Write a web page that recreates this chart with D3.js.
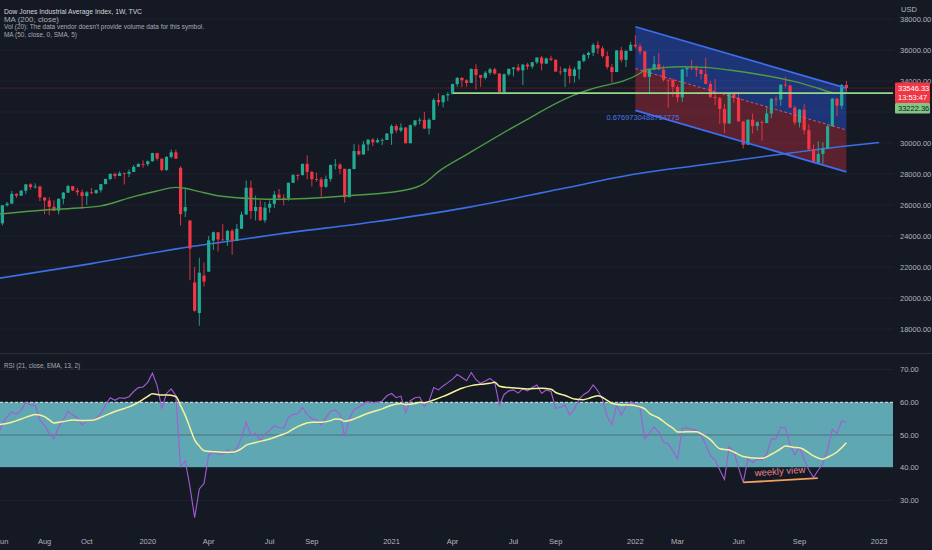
<!DOCTYPE html>
<html><head><meta charset="utf-8">
<script src="https://cdn.jsdelivr.net/npm/d3@7/dist/d3.min.js"></script>
<style>
html,body{margin:0;padding:0;background:#151924;}
svg{display:block;font-family:"Liberation Sans",Arial,sans-serif;}
</style></head><body>
<svg id="c" width="932" height="550"></svg>
<script>
// ---- DATA (weekly bars, index 0 = week of 2019-05-27) ----
const opens = [25585,24815,25984,26090,26719,26600,26922,27332,27154,27192,26485,26287,25886,25629,26403,26797,27220,26935,26820,26573,26817,26770,26958,27347,27681,28005,27876,28051,28015,28135,28455,28645,28634,28823,29348,28989,28256,29102,29398,28400,25590,25000,21000,19030,21450,21700,23700,24242,23775,23724,24331,23685,24465,25383,27111,25606,25871,25016,25827,26075,26672,26470,26428,27433,27931,27930,28654,28133,27666,27657,27174,27683,28587,28606,28336,26502,28323,29480,29263,29910,30218,30046,30179,30200,30606,31098,30814,30997,29983,31148,31458,31494,30932,31496,32779,32628,33072,33153,33801,34200,34043,33875,34778,34382,34208,34529,34756,34480,33290,34433,34786,34870,34687,35061,34935,35209,35515,35120,35455,35369,34608,34584,34798,34326,34746,35295,35677,35820,36328,36100,35602,34899,34580,35971,35365,35951,36338,36231,35912,34265,34725,35089,34738,34079,34059,33615,32944,34755,34861,34818,34721,34451,33811,32977,32899,32197,31262,33213,32900,31393,29888,31501,31097,31338,31288,31899,32845,32803,33761,33707,32283,31318,32151,30822,29590,28726,29297,29635,31083,32862,32403,33748];
const highs = [25600,26000,26200,26910,26750,26970,27350,27400,27400,27250,26500,26500,26300,26420,26840,27300,27220,27100,27000,26900,27100,27000,27350,27700,28040,28090,28175,28100,28290,28580,28700,28870,28870,29370,29370,28989,29150,29570,29570,28500,27100,25000,22000,22600,22300,24000,24280,24250,24760,24400,24450,24770,25580,27580,27580,26610,26300,26200,26300,26900,27030,26700,27440,28000,28000,28670,29200,28200,28100,27800,27900,28600,28960,28700,28340,28350,29930,29900,30120,30230,30320,30310,30300,30640,31200,31200,31270,31030,31200,31470,31640,32010,31600,32900,33230,33100,33280,33830,34260,34260,34120,34810,35090,34400,34640,34850,34850,34500,34480,34800,34900,35090,35080,35170,35230,35520,35630,35520,35630,35400,34930,34800,35000,34900,35310,35770,35900,36440,36570,36250,35900,35100,36000,36200,35960,36530,36950,36400,35950,34700,35600,35820,34990,34100,34170,33750,34800,34860,35370,35000,34800,35500,34000,34120,32970,32520,33220,33300,33280,31400,31520,31900,31400,31450,32300,32900,33000,33800,34280,33760,32400,32200,32500,31200,29900,30100,30050,31150,32900,32900,33800,34000];
const lows = [24800,24680,25900,26060,26450,26600,26720,27000,27050,26250,25400,25340,25600,25400,26050,26780,26900,26600,25750,26000,26700,26700,26800,27340,27600,27700,27870,27320,27800,28130,28450,28400,28500,28800,28860,28170,28200,29000,28980,24680,25220,21150,19120,18213,20740,21690,23100,23000,23700,23360,22790,23680,24460,25380,25100,25000,24960,24850,25500,25800,26300,25990,26280,27430,27600,27900,27660,27200,27500,26540,27100,27500,28300,28000,26140,26500,28300,29200,29260,29500,29800,29990,29860,30200,29880,30650,30700,29980,29980,31050,31200,30900,30550,31480,32400,32300,32700,33150,33640,33600,33640,33870,33460,33630,34100,34400,34400,33270,33150,34330,34300,34600,33740,34730,34800,35100,34690,35120,35280,34600,34400,33610,33850,33900,34100,35200,35450,35600,35750,35500,34760,33900,34580,35200,34900,35950,36100,35700,34200,33150,34700,34700,33970,32270,32980,32630,32650,34280,34700,34270,34100,33800,32900,32440,31230,30640,31250,32600,31390,29650,29880,30600,30800,30140,31280,31600,32400,32400,33600,32270,31160,31000,30550,29570,28720,28700,28660,29630,31080,31730,32200,33300];
const closes = [24815,25984,26090,26719,26600,26922,27332,27154,27192,26485,26287,25886,25629,26403,26797,27220,26935,26820,26573,26817,26770,26958,27347,27681,28005,27876,28051,28015,28135,28455,28645,28634,28823,29348,28989,28256,29102,29398,28992,25409,25865,23186,19174,21637,21053,23719,24242,23775,23724,24331,23685,24465,25383,27111,25606,25871,25016,25827,26075,26672,26470,26428,27433,27931,27930,28654,28133,27666,27657,27174,27683,28587,28606,28336,26502,28323,29480,29263,29910,30218,30046,30179,30200,30606,31098,30814,30997,29983,31148,31458,31494,30932,31496,32779,32628,33072,33153,33801,34200,34043,33875,34778,34382,34208,34529,34756,34480,33290,34433,34786,34870,34687,35061,34935,35209,35515,35120,35455,35369,34608,34584,34798,34326,34746,35295,35677,35820,36328,36100,35602,34899,34580,35971,35365,35951,36338,36231,35912,34265,34725,35089,34738,34079,34059,33615,32944,34755,34861,34818,34721,34451,33811,32977,32899,32197,31262,33213,32900,31393,29888,31501,31097,31338,31288,31899,32845,32803,33761,33707,32283,31318,32151,30822,29590,28726,29297,29635,31083,32862,32403,33748,33546.33];

const ma200Idx  = [0,20,40,50,60,80,100,120,136,150,165,181,188];
const ma200Vals = [21260,22220,23260,23690,24130,24900,25830,27030,28000,28580,29190,29810,30030];

const ma50Idx  = [0,10,18,22,29,34,38,40,43,47,51,60,74,87,91,94,100,112,123,126,137,138,142,146,151,156,163,170,175,178,181];
const ma50Vals = [25400,25680,25820,25940,26540,26900,27140,27080,26860,26600,26470,26370,26580,26970,27400,28150,29250,31370,33100,33420,34500,34700,34860,34920,34880,34710,34390,33960,33530,33250,33200];

const rsiVals = [49.5,53.6,55.6,57.1,56.3,57.6,59.9,59.2,59.0,54.6,52.9,50.5,48.8,52.5,54.6,57.3,56.1,55.3,53.1,54.3,54.6,55.1,56.6,59.2,61.4,60.6,61.4,61.2,61.7,63.3,64.5,64.7,66.1,68.9,65.1,58.2,62.7,64.1,62.0,40.3,42.0,34.2,24.7,33.5,35.2,43.9,44.7,44.1,44.1,45.4,44.3,45.9,49.2,53.9,50.0,50.5,48.4,50.3,51.4,52.8,52.2,52.1,55.3,56.3,56.5,58.4,56.3,55.0,54.7,53.1,55.3,57.3,57.6,56.3,49.5,55.1,57.8,58.5,59.4,60.2,59.7,60.0,60.4,62.0,62.7,61.4,61.9,56.8,60.5,61.4,61.6,58.7,60.4,64.5,63.8,65.0,66.0,67.1,68.5,67.6,66.6,69.1,66.9,65.8,66.5,67.3,66.1,59.0,62.4,63.5,63.8,62.8,64.1,63.5,64.5,65.3,62.7,63.8,63.3,58.2,58.4,59.2,56.1,58.0,61.0,62.4,63.3,65.3,63.5,60.9,55.6,53.1,59.2,56.1,58.7,60.2,59.6,58.2,48.8,50.6,52.5,50.8,47.8,47.3,45.1,42.6,52.0,52.2,51.8,51.5,50.0,47.1,43.7,42.3,39.3,36.4,46.4,44.9,40.0,35.5,42.7,41.6,42.6,42.4,44.1,48.8,48.8,52.4,52.1,46.9,43.9,46.3,42.4,39.3,37.0,39.3,41.2,45.7,51.7,50.5,54.3,53.9];

const emaIdx  = [0,3,5,7,8,10,11,12,14,16,18,20,21,22,24,25,27,28,30,31,32,33,35,36,38,39,40,41,42,43,44,46,48,50,52,53,55,58,60,62,63,65,67,69,71,72,73,74,76,78,80,82,84,86,87,89,90,91,93,95,96,99,101,103,105,106,107,109,111,113,116,118,119,121,123,125,126,128,130,131,133,135,137,138,139,141,143,144,145,147,149,150,152,154,156,157,159,162,163,165,167,168,170,171,172,174,176,177,179,181];
const emaVals = [53.1,53.9,54.9,55.9,56.3,55.6,54.6,53.7,54.1,54.6,54.4,54.5,54.8,55.4,56.6,57.2,58.1,58.6,60.0,60.9,61.8,62.6,62.2,62.2,61.8,59.0,56.0,52.2,48.5,46.6,45.2,44.9,44.7,44.7,45.8,46.9,47.7,48.8,49.8,50.9,51.8,53.2,53.9,53.9,54.4,54.9,54.8,54.2,54.9,56.1,57.1,58.0,59.1,59.6,59.3,59.6,60.0,59.9,60.7,61.8,62.4,64.3,65.1,65.5,65.8,66.1,64.9,64.5,64.3,64.1,64.3,64.0,63.0,62.1,61.0,60.8,61.2,62.0,60.6,59.7,59.2,59.2,58.6,58.0,56.6,55.2,53.0,52.1,50.9,51.0,51.0,50.4,48.6,45.8,45.4,44.8,43.4,42.9,42.9,44.1,45.8,46.6,46.2,46.1,45.5,43.6,42.6,43.2,44.8,47.6];

const tickIdx    = [1,10,19,32,45,58,67,84,97,110,119,136,145,158,171,188];
const tickLabels = ["Jun","Aug","Oct","2020","Apr","Jul","Sep","2021","Apr","Jul","Sep","2022","Mar","Jun","Sep","2023"];
const priceTicks = [18000,20000,22000,24000,26000,28000,30000,32000,34000,36000,38000];
const rsiTicks   = [30,40,50,60,70];

const channelIdx = [136,181];
const channelMid = [34800,30840];
const channelHalf = 2700;
const pearsonR = "0.6769730488754775";
const hLinePrice = 33222.36, hLineStartIdx = 97.1;
const lastPrice = 33546.33, countdown = "13:53:47";
const noteIdx = [159,174.9], noteRsi = [35.5,36.8];

const legendLines = ["Dow Jones Industrial Average Index, 1W, TVC","MA (200, close)","Vol (20): The data vendor doesn't provide volume data for this symbol.","MA (50, close, 0, SMA, 5)"];

// ---- CHART ----
const svg = d3.select('#c');
const plotR = 893;
const x = d3.scaleLinear().domain([0,188]).range([-2.3,879.2]);
const y = d3.scaleLinear().domain([18000,38000]).range([329,19]);
const yr = d3.scaleLinear().domain([30,70]).range([500.4,369.6]);
const UP="#22ab94", DN="#f23645";

svg.append('rect').attr('width',932).attr('height',550).attr('fill','#151924');
const defs = svg.append('defs');
defs.append('clipPath').attr('id','cm').append('rect').attr('x',0).attr('y',0).attr('width',plotR).attr('height',353);
defs.append('clipPath').attr('id','cr').append('rect').attr('x',0).attr('y',354).attr('width',plotR).attr('height',172);

const main = svg.append('g').attr('clip-path','url(#cm)');
main.selectAll('.g').data(priceTicks).join('line').attr('x1',0).attr('x2',plotR)
  .attr('y1',d=>y(d)).attr('y2',d=>y(d)).attr('stroke','#1f2330').attr('stroke-width',1);
main.append('line').attr('x1',0).attr('x2',plotR).attr('y1',y(lastPrice)).attr('y2',y(lastPrice))
  .attr('stroke','rgba(242,54,69,0.45)').attr('stroke-width',1).attr('stroke-dasharray','1,1');

const up = channelMid.map(v=>v+channelHalf), lo = channelMid.map(v=>v-channelHalf);
const cx0=x(channelIdx[0]), cx1=x(channelIdx[1]);
main.append('path').attr('d',`M${cx0},${y(up[0])}L${cx1},${y(up[1])}L${cx1},${y(channelMid[1])}L${cx0},${y(channelMid[0])}Z`)
  .attr('fill','rgba(41,98,255,0.38)');
main.append('path').attr('d',`M${cx0},${y(channelMid[0])}L${cx1},${y(channelMid[1])}L${cx1},${y(lo[1])}L${cx0},${y(lo[0])}Z`)
  .attr('fill','rgba(242,54,69,0.32)');

const lineGen = (xs,ys)=>d3.line().x((d,i)=>x(xs[i])).y(d=>ys(d)).curve(d3.curveMonotoneX);
main.append('path').datum(ma200Vals).attr('d',lineGen(ma200Idx,y)).attr('fill','none')
  .attr('stroke','#3b6fe6').attr('stroke-width',1.6);

const idx = d3.range(closes.length);
const cg = main.append('g');
cg.selectAll('line').data(idx).join('line')
  .attr('x1',i=>x(i)).attr('x2',i=>x(i)).attr('y1',i=>y(highs[i])).attr('y2',i=>y(lows[i]))
  .attr('stroke',i=>closes[i]>=opens[i]?UP:DN).attr('stroke-width',0.9);
cg.selectAll('rect').data(idx).join('rect')
  .attr('x',i=>x(i)-1.6).attr('width',3.2)
  .attr('y',i=>y(Math.max(opens[i],closes[i])))
  .attr('height',i=>Math.max(0.8,Math.abs(y(opens[i])-y(closes[i]))))
  .attr('fill',i=>closes[i]>=opens[i]?UP:DN);

main.append('path').datum(ma50Vals).attr('d',lineGen(ma50Idx,y)).attr('fill','none')
  .attr('stroke','#4e9a45').attr('stroke-width',1.4);

main.append('line').attr('x1',x(hLineStartIdx)).attr('x2',plotR).attr('y1',y(hLinePrice)).attr('y2',y(hLinePrice))
  .attr('stroke','#93d98a').attr('stroke-width',1.8);

main.append('line').attr('x1',cx0).attr('x2',cx1).attr('y1',y(up[0])).attr('y2',y(up[1])).attr('stroke','#3d6df0').attr('stroke-width',1.8);
main.append('line').attr('x1',cx0).attr('x2',cx1).attr('y1',y(lo[0])).attr('y2',y(lo[1])).attr('stroke','#3d6df0').attr('stroke-width',1.8);
main.append('line').attr('x1',cx0).attr('x2',cx1).attr('y1',y(channelMid[0])).attr('y2',y(channelMid[1]))
  .attr('stroke','rgba(230,100,120,0.8)').attr('stroke-width',1).attr('stroke-dasharray','3,2');
main.append('text').attr('x',cx0-29).attr('y',y(lo[0])+10).attr('font-size',7.5).attr('fill','#4d74e8').text(pearsonR);

// legend
const lg = svg.append('g');
const lgY=[13.5,21.5,29,37], lgW=[138,55,200,73];
legendLines.forEach((t,i)=>lg.append('text').attr('x',4).attr('y',lgY[i]).attr('font-size',7.6)
  .attr('fill',i===0?'#d6d8de':'#a9acb5')
  .attr('textLength',lgW[i]).attr('lengthAdjust','spacingAndGlyphs').text(t));

svg.append('line').attr('x1',0).attr('x2',932).attr('y1',353.5).attr('y2',353.5).attr('stroke','#2a2e39').attr('stroke-width',1.2);

// ---- RSI pane ----
const rp = svg.append('g').attr('clip-path','url(#cr)');
rp.selectAll('.rg').data([30,70]).join('line').attr('x1',0).attr('x2',plotR).attr('y1',d=>yr(d)).attr('y2',d=>yr(d)).attr('stroke','#1f2330');
rp.append('rect').attr('x',0).attr('width',plotR).attr('y',yr(60)).attr('height',yr(40)-yr(60)).attr('fill','#5fa8b3');
rp.append('line').attr('x1',0).attr('x2',plotR).attr('y1',yr(60)).attr('y2',yr(60)).attr('stroke','#dfe9ec').attr('stroke-dasharray','3,2').attr('stroke-width',1);
rp.append('line').attr('x1',0).attr('x2',plotR).attr('y1',yr(40)).attr('y2',yr(40)).attr('stroke','#24323d').attr('stroke-width',1.2);
rp.append('line').attr('x1',0).attr('x2',plotR).attr('y1',yr(50)).attr('y2',yr(50)).attr('stroke','#4f6d7a').attr('stroke-width',1.2);
rp.append('path').datum(rsiVals).attr('d',d3.line().x((d,i)=>x(i)).y(d=>yr(d))).attr('fill','none').attr('stroke','#a45bd6').attr('stroke-width',1.1);
rp.append('path').datum(emaVals).attr('d',lineGen(emaIdx,yr)).attr('fill','none').attr('stroke','#f6f29c').attr('stroke-width',1.5);
rp.append('line').attr('x1',x(noteIdx[0])).attr('x2',x(noteIdx[1])).attr('y1',yr(noteRsi[0])).attr('y2',yr(noteRsi[1]))
  .attr('stroke','#f0a25c').attr('stroke-width',1.8);
rp.append('text').attr('x',780).attr('y',474.5).attr('text-anchor','middle').attr('font-size',9.5)
  .attr('fill','#e9828f').attr('transform','rotate(-4,780,471)').text('weekly view');
svg.append('text').attr('x',4).attr('y',367.5).attr('font-size',7.6).attr('fill','#a9acb5')
  .attr('textLength',76).attr('lengthAdjust','spacingAndGlyphs').text('RSI (21, close, EMA, 13, 2)');

// ---- axes ----
const ax = svg.append('g').attr('font-size',7.5).attr('fill','#b2b5be');
ax.append('text').attr('x',901).attr('y',12).text('USD');
// 32000.00 sits fully under the price labels in the reference, so only visible ticks are written
ax.selectAll('.pl').data(priceTicks.filter(d=>d!==32000)).join('text').attr('x',900).attr('y',d=>y(d)+2.6).text(d=>d.toFixed(2));
ax.selectAll('.rl').data(rsiTicks).join('text').attr('x',900).attr('y',d=>yr(d)+2.6).text(d=>d.toFixed(2));
ax.selectAll('.tl').data(tickIdx).join('text').attr('x',i=>x(i)).attr('y',544).attr('text-anchor','middle').text((d,i)=>tickLabels[i]);

const pl = svg.append('g').attr('font-size',7.5);
pl.append('rect').attr('x',895).attr('y',y(lastPrice)-5.5).attr('width',35).attr('height',20.5).attr('fill',DN).attr('rx',1);
pl.append('text').attr('x',898).attr('y',y(lastPrice)+2.7).attr('fill','#fff').text(lastPrice.toFixed(2));
pl.append('text').attr('x',898).attr('y',y(lastPrice)+12.2).attr('fill','#fff').text(countdown);
pl.append('rect').attr('x',895).attr('y',y(lastPrice)+15).attr('width',35).attr('height',10.5).attr('fill','#81c784').attr('rx',1);
pl.append('text').attr('x',898).attr('y',y(lastPrice)+23).attr('fill','#131722').text(hLinePrice.toFixed(2));
</script>
</body></html>
